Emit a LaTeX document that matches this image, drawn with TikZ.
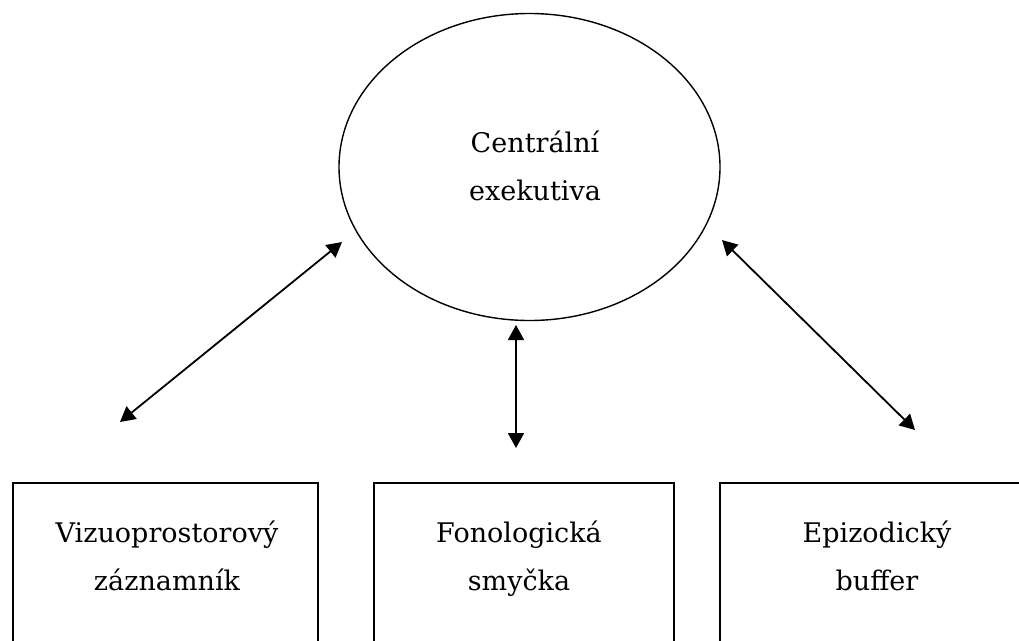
\documentclass[tikz,border=0pt]{standalone}
\usepackage{fontspec}
\setmainfont{DejaVu Serif}
\usetikzlibrary{shapes.geometric,arrows.meta}
\tikzset{
  lbl/.style={anchor=base, inner sep=0pt, font=\fontsize{27}{48}\selectfont},
  boxshape/.style={draw, line width=1.8pt, inner sep=0pt},
  link/.style={line width=1.8pt, {Triangle[length=15pt,width=16pt]}-{Triangle[length=15pt,width=16pt]}}
}
\newcommand{\twolines}[2]{\begin{tabular}[t]{@{}c@{}}#1\\#2\end{tabular}}
\begin{document}
\begin{tikzpicture}[x=1pt,y=-1pt]
\useasboundingbox (0,0) rectangle (1019,640);
\clip (0,0) rectangle (1019,640);
% central executive
\node[ellipse, draw, line width=1.4pt, minimum width=381pt, minimum height=307pt, inner sep=0pt] (ce) at (529.5,167) {};
\node[lbl] (cet) at (535,152) {\twolines{Centrální}{exekutiva}};
% boxes
\node[boxshape, minimum width=305pt, minimum height=240pt, anchor=north west] (vz) at (11.7,482) {};
\node[boxshape, minimum width=300pt, minimum height=240pt, anchor=north west] (fs) at (373,482) {};
\node[boxshape, minimum width=316pt, minimum height=240pt, anchor=north west] (eb) at (719,482) {};
\node[lbl] (vzt) at (167,542) {\twolines{Vizuoprostorový}{záznamník}};
\node[lbl] (fst) at (519,542) {\twolines{Fonologická}{smyčka}};
\node[lbl] (ebt) at (877,542) {\twolines{Epizodický}{buffer}};
% arrow ends
\coordinate (a1) at (342,242);
\coordinate (b1) at (120,422);
\coordinate (a2) at (516,325);
\coordinate (b2) at (516,448);
\coordinate (a3) at (722,240);
\coordinate (b3) at (915,430);
\draw[link] (a1) -- (b1);
\draw[link] (a2) -- (b2);
\draw[link] (a3) -- (b3);
\end{tikzpicture}
\end{document}
